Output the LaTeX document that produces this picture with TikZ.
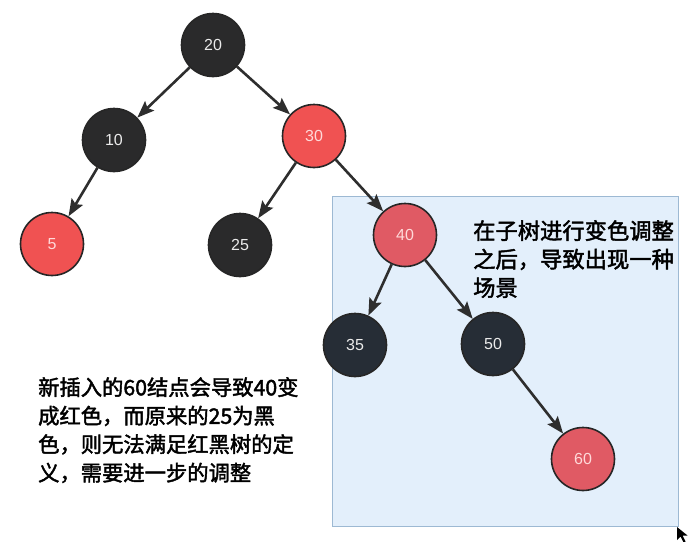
\documentclass[tikz,border=0pt]{standalone}
\usepackage{fontspec}
\setmainfont{Liberation Sans}
\newfontfamily\cjk[FakeBold=2]{Noto Sans CJK SC}
\usetikzlibrary{arrows.meta}
\definecolor{nodeblack}{HTML}{2A2A2B}
\definecolor{nodeslate}{HTML}{262D36}
\definecolor{nodered}{HTML}{F05252}
\definecolor{nodepink}{HTML}{E05A64}
\definecolor{edgegray}{HTML}{2E2E2E}
\definecolor{panelfill}{HTML}{E3EFFB}
\definecolor{paneledge}{HTML}{9DB9D3}
\tikzset{
  rbnode/.style={circle, minimum size=63pt, inner sep=0pt, draw=black!85,
    line width=1.6pt, font=\fontsize{16}{16}\selectfont},
  blacknode/.style={rbnode, fill=nodeblack, text=white!92!black},
  slatenode/.style={rbnode, fill=nodeslate, text=white!92!black},
  rednode/.style={rbnode, fill=nodered, text=white!85!red},
  pinknode/.style={rbnode, fill=nodepink, text=white!85!red},
  link/.style={draw=edgegray, line width=2.6pt,
    -{Stealth[length=17pt, width=13pt, inset=3pt]}},
  note/.style={anchor=north west, align=left, inner sep=0pt, text=black}
}
\begin{document}
\begin{tikzpicture}[x=1pt, y=-1pt]
  \useasboundingbox (0,0) rectangle (693,541);
  % highlighted subtree panel
  \node[draw=paneledge, fill=panelfill, line width=1.2pt, minimum width=346pt,
    minimum height=330pt, inner sep=0pt, anchor=north west] (panel) at (332,196) {};

  % tree nodes
  \node[blacknode] (n20) at (213,45) {20};
  \node[blacknode] (n10) at (114,140) {10};
  \node[rednode]   (n30) at (314,136) {30};
  \node[rednode]   (n5)  at (52,244)  {5};
  \node[blacknode] (n25) at (240,245) {25};
  \node[pinknode]  (n40) at (405,235) {40};
  \node[slatenode] (n35) at (355,345) {35};
  \node[slatenode] (n50) at (493,344) {50};
  \node[pinknode]  (n60) at (583,459) {60};

  % parent -> child links
  \draw[link] (n20) -- (n10);
  \draw[link] (n20) -- (n30);
  \draw[link] (n10) -- (n5);
  \draw[link] (n30) -- (n25);
  \draw[link] (n30) -- (n40);
  \draw[link] (n40) -- (n35);
  \draw[link] (n40) -- (n50);
  \draw[link] (n50) -- (n60);

  % annotations
  \node[note, font=\cjk\fontsize{22.3}{28.5}\selectfont] (subtreenote) at (473,220)
    {在子树进行变色调整\\之后，导致出现一种\\场景};
  \node[note, font=\cjk\fontsize{21.3}{28.5}\selectfont] (insertnote) at (38,377)
    {新插入的60结点会导致40变\\成红色，而原来的25为黑\\色，则无法满足红黑树的定\\义，需要进一步的调整};

  % mouse pointer
  \coordinate (cursor) at (677,527);
  \fill[black] (cursor) -- ++(0,13) -- ++(3.5,-3.5) -- ++(3,6) -- ++(2,-1)
    -- ++(-3,-6) -- ++(5,0) -- cycle;
\end{tikzpicture}
\end{document}
